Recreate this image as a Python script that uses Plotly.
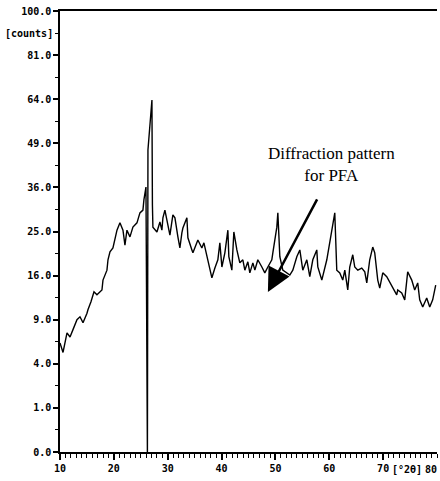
import numpy as np
import plotly.graph_objects as go

two_theta = [10.00, 10.56, 11.30, 11.86, 12.41, 13.15, 13.71, 14.27, 15.01, 15.19,
             15.75, 16.31, 16.86, 17.79, 17.98, 18.72, 18.91, 19.28, 19.83, 20.58,
             21.13, 21.69, 22.06, 22.43, 22.99, 23.54, 24.29, 24.84, 25.40, 25.58,
             25.96, 26.23, 26.33, 26.70, 27.07, 27.16, 27.25, 28.00, 28.55, 28.92,
             29.11, 29.48, 30.04, 30.41, 30.96, 31.34, 31.89, 32.26, 32.63, 32.82,
             33.56, 33.75, 34.49, 34.68, 35.60, 36.34, 36.72, 37.27, 37.83, 38.20,
             38.76, 39.31, 39.68, 40.06, 40.61, 41.17, 41.35, 41.91, 42.28, 42.84,
             43.39, 43.95, 44.32, 44.88, 45.25, 45.81, 46.18, 46.73, 47.48, 48.03,
             48.59, 49.33, 49.52, 50.26, 50.45, 50.82, 51.37, 52.67, 53.23, 53.97,
             54.53, 55.08, 55.83, 56.38, 56.94, 57.68, 57.87, 58.61, 59.54, 60.09,
             60.65, 61.02, 61.39, 61.95, 62.50, 62.88, 63.43, 63.80, 64.36, 64.73,
             65.29, 66.03, 66.59, 66.96, 67.51, 68.07, 68.44, 69.00, 69.37, 69.93,
             70.67, 71.22, 71.78, 72.52, 72.71, 73.45, 74.01, 74.56, 75.31, 75.86,
             76.42, 76.79, 77.35, 78.09, 78.65, 79.20, 79.76]
counts = [6.1, 5.1, 7.3, 6.8, 7.7, 9.0, 9.4, 8.6, 9.9, 10.4,
          11.6, 13.2, 12.7, 13.5, 15.2, 17.0, 19.0, 20.6, 21.4, 25.3,
          27.0, 25.3, 22.0, 25.3, 23.8, 26.0, 27.0, 29.4, 30.1, 32.7,
          36.1, 0.0, 46.9, 55.0, 63.7, 31.4, 26.0, 24.9, 27.2, 25.3,
          28.2, 30.1, 26.5, 24.2, 28.9, 28.2, 23.8, 21.4, 24.7, 25.8,
          28.2, 23.6, 21.0, 20.4, 23.1, 21.4, 22.5, 19.6, 17.0, 15.6,
          17.4, 19.0, 22.5, 17.6, 20.4, 25.3, 19.6, 17.0, 24.9, 21.0,
          18.4, 19.0, 17.0, 18.6, 16.5, 18.4, 17.0, 19.0, 17.6, 16.5,
          17.6, 19.0, 20.4, 26.0, 29.4, 19.6, 17.0, 16.1, 17.0, 19.6,
          21.0, 17.0, 19.0, 15.8, 19.0, 21.0, 17.6, 15.2, 19.0, 22.5,
          26.0, 29.4, 17.0, 16.5, 15.2, 17.0, 13.5, 17.6, 20.0, 17.6,
          17.0, 17.4, 16.7, 14.7, 19.0, 21.6, 20.4, 15.2, 13.8, 16.5,
          15.8, 14.9, 14.0, 12.7, 13.5, 13.0, 11.9, 16.7, 15.2, 13.5,
          14.7, 11.9, 10.8, 12.2, 10.8, 11.9, 14.3]

y_tick_counts = [0, 1, 4, 9, 16, 25, 36, 49, 64, 81, 100]
y_tick_labels = ["0.0", "1.0", "4.0", "9.0", "16.0", "25.0", "36.0", "49.0",
                 "64.0", "81.0", "100.0"]
x_tick_vals = [10, 20, 30, 40, 50, 60, 70]
x_tick_labels = ["10", "20", "30", "40", "50", "60", "70"]

# square-root intensity scale (as on the instrument plot)
y_sqrt = np.sqrt(np.array(counts))
y_tick_pos = np.sqrt(np.array(y_tick_counts))

tickfont = dict(family="DejaVu Sans Mono", size=10, color="black", weight="bold")

fig = go.Figure()
fig.add_trace(go.Scatter(x=two_theta, y=y_sqrt, mode="lines",
                         line=dict(color="black", width=1.4),
                         showlegend=False, hoverinfo="skip"))

fig.update_layout(
    width=440, height=481,
    margin=dict(l=60, r=3, t=11, b=29, autoexpand=False),
    paper_bgcolor="white", plot_bgcolor="white",
    showlegend=False,
    xaxis=dict(range=[10, 80], tickmode="array", tickvals=x_tick_vals,
               ticktext=x_tick_labels, ticks="outside", ticklen=6, tickwidth=1.5,
               tickcolor="black", showline=True, linecolor="black", linewidth=1.5,
               mirror=True, showgrid=False, zeroline=False, tickfont=tickfont,
               automargin=False,
               minor=dict(tickmode="linear", tick0=10, dtick=1, ticks="outside",
                          ticklen=4, tickcolor="black", tickwidth=1, showgrid=False)),
    yaxis=dict(range=[0, 10], tickmode="array", tickvals=list(y_tick_pos),
               ticktext=y_tick_labels, ticks="outside", ticklen=5, tickwidth=1.5,
               tickcolor="black", showline=True, linecolor="black", linewidth=1.5,
               showgrid=False, zeroline=False, tickfont=tickfont, automargin=False,
               minor=dict(tickmode="linear", tick0=0, dtick=0.5, ticks="outside",
                          ticklen=3, tickcolor="black", tickwidth=1, showgrid=False)),
)

# axis unit labels
fig.add_annotation(text="[counts]", xref="paper", yref="paper", x=0, y=0.95,
                   xanchor="right", yanchor="middle", xshift=-5, showarrow=False,
                   font=tickfont)
fig.add_annotation(text="[°2θ]", xref="x", yref="paper", x=74.4, y=0,
                   xanchor="center", yanchor="top", yshift=-10, showarrow=False,
                   font=tickfont)
# last x tick label, kept inside the page edge
fig.add_annotation(text="80", xref="x", yref="paper", x=80, y=0,
                   xanchor="right", yanchor="top", yshift=-10, xshift=2,
                   showarrow=False, font=tickfont)

# label and arrow
fig.add_annotation(text="Diffraction pattern<br>for PFA", xref="paper", yref="paper",
                   x=0.719, y=0.651, xanchor="center", yanchor="middle",
                   showarrow=False, align="center",
                   font=dict(family="Liberation Serif", size=17, color="black"))
fig.add_annotation(text="", xref="x", yref="y", x=48.6, y=3.63, ax=50, ay=-94,
                   showarrow=True, arrowhead=2, arrowsize=1.9, arrowwidth=2.5,
                   arrowcolor="black")

fig.write_html("out.html", config={"displayModeBar": False},
               post_script="document.body.style.margin='0';document.body.style.overflow='hidden';")
